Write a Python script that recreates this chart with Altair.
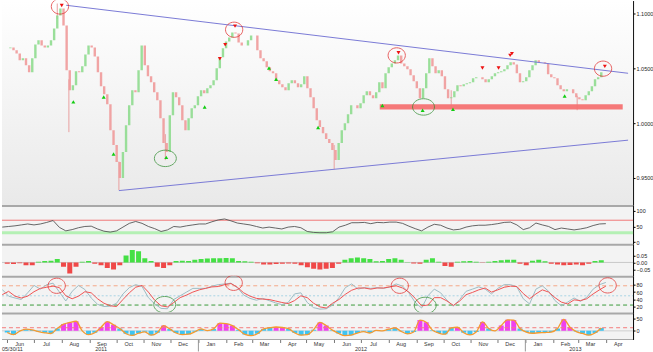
import altair as alt
import pandas as pd

W = 633
H_MAIN, H_RSI, H_MOM, H_STO, H_OSC = 205, 39, 32, 37, 27
FONT = "Liberation Sans"

# ---------------- data ----------------
close = [
    1.0682, 1.0691, 1.0664, 1.0636, 1.0573, 1.0591, 1.0527, 1.0464, 1.0591, 1.0718,
    1.0755, 1.0709, 1.0691, 1.0709, 1.0755, 1.0864, 1.0982, 1.1045, 1.0891, 1.0482,
    1.0300, 1.0345, 1.0473, 1.0464, 1.0518, 1.0627, 1.0709, 1.0691, 1.0609, 1.0464,
    1.0336, 1.0264, 1.0173, 0.9936, 0.9800, 0.9645, 0.9500, 0.9736, 0.9982, 1.0164,
    1.0300, 1.0282, 1.0482, 1.0709, 1.0527, 1.0427, 1.0373, 1.0282, 1.0209, 1.0045,
    0.9818, 0.9736, 1.0073, 1.0282, 1.0236, 1.0164, 1.0027, 0.9936, 1.0045, 1.0136,
    1.0164, 1.0245, 1.0300, 1.0273, 1.0318, 1.0345, 1.0391, 1.0500, 1.0600, 1.0682,
    1.0745, 1.0782, 1.0827, 1.0818, 1.0736, 1.0709, 1.0709, 1.0755, 1.0800, 1.0800,
    1.0664, 1.0591, 1.0564, 1.0509, 1.0473, 1.0455, 1.0391, 1.0355, 1.0327, 1.0300,
    1.0364, 1.0391, 1.0364, 1.0327, 1.0355, 1.0427, 1.0318, 1.0236, 1.0136, 1.0027,
    0.9964, 0.9909, 0.9855, 0.9818, 0.9755, 0.9664, 0.9818, 0.9936, 1.0000, 1.0082,
    1.0164, 1.0164, 1.0136, 1.0182, 1.0255, 1.0291, 1.0255, 1.0227, 1.0282, 1.0373,
    1.0318, 1.0455, 1.0509, 1.0545, 1.0573, 1.0618, 1.0545, 1.0518, 1.0491, 1.0436,
    1.0382, 1.0318, 1.0227, 1.0318, 1.0455, 1.0591, 1.0518, 1.0455, 1.0482, 1.0427,
    1.0309, 1.0227, 1.0236, 1.0291, 1.0345, 1.0336, 1.0355, 1.0364, 1.0373, 1.0409,
    1.0418, 1.0418, 1.0400, 1.0373, 1.0400, 1.0427, 1.0455, 1.0464, 1.0473, 1.0491,
    1.0527, 1.0555, 1.0536, 1.0455, 1.0373, 1.0382, 1.0418, 1.0482, 1.0527, 1.0573,
    1.0555, 1.0555, 1.0545, 1.0445, 1.0418, 1.0409, 1.0345, 1.0309, 1.0291, 1.0309,
    1.0309, 1.0273, 1.0236, 1.0218, 1.0209, 1.0255, 1.0291, 1.0336, 1.0400, 1.0418,
    1.0464, 1.0464,
]

# a few long wicks visible in the picture: date, low end, high end
wick_dates = ["2011-07-27", "2011-08-09", "2011-10-04", "2011-11-25", "2012-06-01",
              "2012-10-10", "2013-02-28"]
wick_lows = [1.0950, 0.9918, 0.9390, 0.9663, 0.9580, 1.0145, 1.0118]
wick_highs = [1.1091, 1.0400, 0.9650, 0.9900, 0.9800, 1.0300, 1.0250]

rsi = [
    48, 50, 52, 55, 58, 55, 58, 63, 69, 47, 36, 40, 46, 50, 51, 42, 35, 32, 36, 48,
    60, 66, 60, 50, 43, 34, 39, 50, 48, 52, 55, 58, 58, 65, 71, 74, 68, 61, 58, 55,
    50, 45, 48, 45, 42, 48, 50, 46, 34, 31, 30, 30, 33, 48, 54, 62, 62, 63, 59, 63,
    62, 64, 64, 60, 51, 43, 36, 48, 57, 54, 45, 39, 41, 48, 52, 54, 54, 56, 59, 63,
    64, 55, 40, 46, 61, 55, 50, 40, 45, 42, 39, 42, 46, 53, 58, 59,
]

momentum = [
    -0.01, -0.012, -0.005, -0.02, -0.02, 0.005, 0.01, 0.012, 0.025, -0.03,
    -0.08, -0.03, 0.005, 0.01, -0.01, -0.02, -0.04, -0.05, -0.02, 0.05,
    0.09, 0.08, 0.03, 0.01, -0.03, -0.04, -0.02, 0.01, 0.012, 0.01,
    0.02, 0.025, 0.028, 0.03, 0.03, 0.032, 0.03, 0.01, 0.008, 0.005,
    -0.005, -0.015, -0.015, -0.012, -0.01, -0.008, -0.01, -0.02, -0.035, -0.045,
    -0.05, -0.045, -0.04, -0.01, 0.02, 0.03, 0.035, 0.03, 0.025, 0.008,
    0.01, 0.025, 0.03, 0.02, 0.002, -0.008, -0.01, 0.02, 0.03, 0.005,
    -0.025, -0.03, 0.005, 0.008, 0.01, 0.005, -0.003, 0.005, 0.01, 0.015,
    0.02, 0.02, -0.01, -0.02, 0.012, 0.02, 0.008, -0.01, -0.015, -0.02,
    -0.018, -0.015, -0.02, -0.01, 0.01, 0.015,
]

stoch_slow = [
    53, 62, 49, 44, 49, 61, 70, 73, 76, 72, 50, 42, 49, 61, 58, 42, 30, 23, 21, 40,
    58, 73, 78, 60, 38, 23, 20, 32, 45, 52, 60, 66, 70, 74, 75, 80, 83, 73, 58, 49,
    43, 41, 40, 36, 32, 29, 37, 50, 45, 30, 20, 17, 30, 40, 54, 65, 71, 71, 68, 71,
    71, 74, 77, 71, 60, 43, 23, 25, 45, 45, 36, 24, 36, 53, 59, 66, 71, 60, 66, 73,
    76, 75, 56, 42, 55, 66, 60, 45, 33, 28, 39, 37, 42, 55, 66, 76,
]

stoch_fast = [
    67, 49, 44, 40, 58, 78, 68, 80, 84, 60, 36, 62, 78, 67, 44, 27, 21, 22, 30, 55,
    72, 80, 75, 45, 28, 16, 15, 40, 50, 60, 70, 70, 70, 76, 80, 82, 84, 72, 52, 43,
    38, 43, 37, 31, 26, 32, 55, 58, 32, 18, 14, 15, 25, 45, 72, 82, 68, 72, 70, 72,
    70, 74, 82, 76, 58, 32, 17, 50, 68, 58, 38, 22, 40, 62, 68, 74, 68, 55, 70, 80,
    80, 74, 42, 28, 68, 77, 62, 37, 23, 33, 44, 35, 46, 68, 80, 86,
]

osc = [
    -7, -16, -1, 7, 4, -3, -8, -11, 10, 28, 35, 40, 0, -16, -8, 15, 38, 25, 10, -12,
    -19, -10, -4, -18, -8, 22, 8, -9, -16, -14, -4, 8, 1, 8, 32, 30, 22, 5, -15, -20,
    -12, 8, 13, 16, 14, 9, -9, -18, -16, 5, 35, 22, 3, -11, -20, -18, -9, -3, -9, 2,
    0, 7, 12, -2, -13, -5, 45, 36, 3, -9, -14, 12, 15, -8, -17, -5, 37, 10, 0, 22,
    46, 45, 10, -5, -10, -8, -7, -5, 10, 48, 15, -3, -11, -18, -9, 12,
]

top_marker_dates = ["2011-08-01", "2012-01-25", "2012-01-31", "2012-02-11", "2012-08-12",
                    "2012-11-14", "2012-12-02", "2012-12-15", "2012-12-17", "2013-03-31"]
top_marker_prices = [1.1073, 1.0588, 1.0715, 1.0885, 1.0643, 1.0503, 1.0503, 1.0618, 1.0634, 1.0518]

bottom_marker_dates = ["2011-08-14", "2011-09-17", "2011-09-28", "2011-11-26", "2012-01-08",
                       "2012-03-20", "2012-03-28", "2012-05-14", "2012-07-25", "2012-09-08",
                       "2012-10-12", "2013-02-14"]
bottom_marker_prices = [1.0194, 1.0239, 0.9718, 0.9688, 1.0148, 1.0503, 1.0400, 0.9961,
                        1.0161, 1.0118, 1.0127, 1.0248]

red_circle_dates = ["2011-07-30", "2012-02-10", "2012-08-10", "2013-03-29"]
red_circle_prices = [1.1064, 1.0852, 1.0618, 1.0497]
green_circle_dates = ["2011-11-25", "2012-09-09"]
green_circle_prices = [0.9679, 1.0148]

stoch_red_circle_dates = ["2011-07-31", "2012-02-11", "2012-08-12", "2013-03-29"]
stoch_red_circle_values = [77, 85, 77, 78]
stoch_green_circle_dates = ["2011-11-27", "2012-09-09"]
stoch_green_circle_values = [26, 24]

trend_names = ["upper", "upper", "lower", "lower"]
trend_dates = ["2011-08-06", "2013-04-26", "2011-10-04", "2013-04-26"]
trend_prices = [1.1075, 1.0455, 0.9385, 0.9845]

band_start, band_end = "2012-07-22", "2013-04-20"
band_low, band_high = 1.0125, 1.0173

month_names = ["Jun", "Jul", "Aug", "Sep", "Oct", "Nov", "Dec", "Jan", "Feb", "Mar", "Apr", "May",
               "Jun", "Jul", "Aug", "Sep", "Oct", "Nov", "Dec", "Jan", "Feb", "Mar", "Apr"]
year_names = ["2011", "2012", "2013"]
year_label_dates = ["2011-09-14", "2012-07-01", "2013-02-26"]
year_sep_dates = ["2012-01-01", "2013-01-01"]

# ---------------- tables ----------------
dates = pd.date_range("2011-06-01", periods=len(close), freq=pd.Timedelta(hours=84))
price = pd.DataFrame({"date": dates, "close": close})
price["open"] = price["close"].shift(1).fillna(price["close"])
price["dir"] = (price["close"] >= price["open"]).map({True: "up", False: "down"})

wicks = pd.DataFrame({"date": pd.to_datetime(wick_dates), "lo": wick_lows, "hi": wick_highs})

wdates = dates[::2]
ind = pd.DataFrame({"date": wdates, "rsi": rsi, "mom": momentum,
                    "fast": stoch_fast, "slow": stoch_slow, "osc": osc})
ind["momdir"] = (ind["mom"] >= 0).map({True: "pos", False: "neg"})
ind["oscdir"] = (ind["osc"] > 13).map({True: "hi", False: "lo"})

tops = pd.DataFrame({"date": pd.to_datetime(top_marker_dates), "p": top_marker_prices})
bots = pd.DataFrame({"date": pd.to_datetime(bottom_marker_dates), "p": bottom_marker_prices})
rc = pd.DataFrame({"date": pd.to_datetime(red_circle_dates), "p": red_circle_prices})
gc = pd.DataFrame({"date": pd.to_datetime(green_circle_dates), "p": green_circle_prices})
src = pd.DataFrame({"date": pd.to_datetime(stoch_red_circle_dates), "v": stoch_red_circle_values})
sgc = pd.DataFrame({"date": pd.to_datetime(stoch_green_circle_dates), "v": stoch_green_circle_values})
trend = pd.DataFrame({"name": trend_names, "date": pd.to_datetime(trend_dates), "p": trend_prices})
band = pd.DataFrame({"d1": [pd.Timestamp(band_start)], "d2": [pd.Timestamp(band_end)],
                     "lo": [band_low], "hi": [band_high]})
months = pd.DataFrame({"date": pd.date_range("2011-06-01", periods=len(month_names), freq="MS")
                       + pd.Timedelta(days=14), "m": month_names})
years = pd.DataFrame({"date": pd.to_datetime(year_label_dates), "y": year_names})
ysep = pd.DataFrame({"date": pd.to_datetime(year_sep_dates)})
one = pd.DataFrame({"a": [0]})

# ---------------- scales / helpers ----------------
xs = alt.Scale(domain=[alt.DateTime(year=2011, month=5, date=31, hours=17),
                       alt.DateTime(year=2013, month=4, date=26)])
X = alt.X("date:T", scale=xs, axis=None)


def yaxis(values, fmt):
    return alt.Axis(orient="right", values=values, format=fmt, title=None, grid=False,
                    tickSize=2, labelPadding=1, domainColor="#000", tickColor="#000",
                    labelFont=FONT, labelFontSize=5.5, labelColor="#222")


ellipse_red = "M -1 0 A 1 0.88 0 1 1 1 0 A 1 0.88 0 1 1 -1 0 Z"
ellipse_green = "M -1 0 A 1 0.75 0 1 1 1 0 A 1 0.75 0 1 1 -1 0 Z"


def separator():
    return alt.Chart(one).mark_rule(color="#a8a8a8", strokeWidth=2).encode(
        x=alt.value(0), x2=alt.value(W), y=alt.value(1))


# ---------------- main price panel ----------------
ys = alt.Scale(domain=[0.92545, 1.11182], nice=False, zero=False)
ymain = lambda f: alt.Y(f, scale=ys, axis=yaxis([0.95, 1.0, 1.05, 1.1], ".4f"))

bg = alt.Chart(one).mark_rect(
    color=alt.Gradient(gradient="linear",
                       stops=[alt.GradientStop(color="#ffffff", offset=0),
                              alt.GradientStop(color="#e9e9e9", offset=1)],
                       x1=0, x2=0, y1=0, y2=1)
).encode(x=alt.value(0), x2=alt.value(W), y=alt.value(0), y2=alt.value(H_MAIN))

band_layer = alt.Chart(band).mark_rect(color="#f47272", opacity=0.95, clip=True).encode(
    x=alt.X("d1:T", scale=xs, axis=None), x2="d2:T", y=ymain("lo:Q"), y2="hi:Q")

wick_layer = alt.Chart(wicks).mark_rule(color="#e8a0a0", strokeWidth=1, clip=True).encode(
    x=X, y=ymain("lo:Q"), y2="hi:Q")

candles = alt.Chart(price).mark_bar(size=2.4, clip=True, opacity=0.9).encode(
    x=X, y=ymain("open:Q"), y2="close:Q",
    color=alt.Color("dir:N", scale=alt.Scale(domain=["up", "down"], range=["#8fdc8f", "#f09a9a"]),
                    legend=None))

trend_layer = alt.Chart(trend).mark_line(color="#7a7ad6", strokeWidth=1, clip=True).encode(
    x=X, y=ymain("p:Q"), detail="name:N")

tops_layer = alt.Chart(tops).mark_point(shape="triangle-down", filled=True, size=16, clip=True,
                                        color="#ee1111", opacity=1).encode(x=X, y=ymain("p:Q"))
bots_layer = alt.Chart(bots).mark_point(shape="triangle-up", filled=True, size=16, clip=True,
                                        color="#11cc11", opacity=1).encode(x=X, y=ymain("p:Q"))
rc_layer = alt.Chart(rc).mark_point(shape=ellipse_red, size=300, color="#e02020", clip=True,
                                    strokeWidth=1, filled=False).encode(x=X, y=ymain("p:Q"))
gc_layer = alt.Chart(gc).mark_point(shape=ellipse_green, size=484, color="#2a8a2a", clip=True,
                                    strokeWidth=1, filled=False).encode(x=X, y=ymain("p:Q"))

main = alt.layer(bg, wick_layer, candles, band_layer, trend_layer, tops_layer, bots_layer,
                 rc_layer, gc_layer).properties(width=W, height=H_MAIN)

# ---------------- RSI panel ----------------
yr = alt.Scale(domain=[-5.4, 119], nice=False, zero=False)
rsi_axis = yaxis([0, 50, 100], "d")
rsi_panel = alt.layer(
    separator(),
    alt.Chart(one).mark_rule(color="#b4f0b4", strokeWidth=3).encode(
        x=alt.value(0), x2=alt.value(W), y=alt.datum(30, scale=yr, axis=rsi_axis)),
    alt.Chart(one).mark_rule(color="#f07878", strokeWidth=1).encode(
        x=alt.value(0), x2=alt.value(W), y=alt.datum(70, scale=yr, axis=rsi_axis)),
    alt.Chart(ind).mark_line(color="#555555", strokeWidth=0.9, clip=True).encode(
        x=X, y=alt.Y("rsi:Q", scale=yr, axis=rsi_axis)),
).properties(width=W, height=H_RSI, view=alt.ViewBackground(fill="#f3f3f3", stroke=None))

# ---------------- momentum panel ----------------
ym = alt.Scale(domain=[-0.095, 0.1336], nice=False, zero=False)
mom_axis = yaxis([-0.05, 0, 0.05], ".2f")
mom_panel = alt.layer(
    separator(),
    alt.Chart(one).mark_rule(color="#c8c8c8", strokeWidth=1).encode(
        x=alt.value(0), x2=alt.value(W), y=alt.datum(0, scale=ym, axis=mom_axis)),
    alt.Chart(ind).mark_bar(size=5, clip=True).encode(
        x=X, y=alt.Y("mom:Q", scale=ym, axis=mom_axis), y2=alt.datum(0),
        color=alt.Color("momdir:N", scale=alt.Scale(domain=["pos", "neg"], range=["#44e044", "#f04848"]),
                        legend=None)),
).properties(width=W, height=H_MOM, view=alt.ViewBackground(fill="#f3f3f3", stroke=None))

# ---------------- stochastic panel ----------------
yst = alt.Scale(domain=[4.7, 104.2], nice=False, zero=False)
st_axis = yaxis([20, 40, 60, 80], "d")
sto_panel = alt.layer(
    separator(),
    alt.Chart(one).mark_rule(color="#f4a888", strokeWidth=1, strokeDash=[4, 3]).encode(
        x=alt.value(0), x2=alt.value(W), y=alt.datum(77, scale=yst, axis=st_axis)),
    alt.Chart(one).mark_rule(color="#a8d4e4", strokeWidth=1, strokeDash=[2, 2]).encode(
        x=alt.value(0), x2=alt.value(W), y=alt.datum(50, scale=yst, axis=st_axis)),
    alt.Chart(one).mark_rule(color="#3a9a3a", strokeWidth=1, strokeDash=[4, 3]).encode(
        x=alt.value(0), x2=alt.value(W), y=alt.datum(25, scale=yst, axis=st_axis)),
    alt.Chart(ind).mark_line(color="#9dbcc4", strokeWidth=1, clip=True).encode(
        x=X, y=alt.Y("fast:Q", scale=yst, axis=st_axis)),
    alt.Chart(ind).mark_line(color="#f05454", strokeWidth=1, clip=True).encode(
        x=X, y=alt.Y("slow:Q", scale=yst, axis=st_axis)),
    alt.Chart(src).mark_point(shape=ellipse_red, size=300, color="#e02020", strokeWidth=1,
                              filled=False, clip=True).encode(x=X, y=alt.Y("v:Q", scale=yst, axis=st_axis)),
    alt.Chart(sgc).mark_point(shape=ellipse_green, size=484, color="#2a8a2a", strokeWidth=1,
                              filled=False, clip=True).encode(x=X, y=alt.Y("v:Q", scale=yst, axis=st_axis)),
).properties(width=W, height=H_STO, view=alt.ViewBackground(fill="#f3f3f3", stroke=None))

# ---------------- oscillator panel + time axis ----------------
yo = alt.Scale(domain=[-36, 76], nice=False, zero=False)
osc_axis = yaxis([0, 50], "d")
month_ticks = [alt.DateTime(year=2011 + (5 + i) // 12, month=(5 + i) % 12 + 1, date=1)
               for i in range(len(month_names))]
Xb = alt.X("date:T", scale=xs, axis=alt.Axis(orient="bottom", values=month_ticks, labels=False,
                                              tickSize=3, domain=False, grid=False, title=None,
                                              tickColor="#777"))
osc_panel = alt.layer(
    separator(),
    alt.Chart(one).mark_rule(color="#a8a8a8", strokeWidth=1).encode(
        x=alt.value(0), x2=alt.value(W), y=alt.value(H_OSC)),
    alt.Chart(one).mark_rule(color="#cfcfcf", strokeWidth=1).encode(
        x=alt.value(0), x2=alt.value(W), y=alt.datum(0, scale=yo, axis=osc_axis)),
    alt.Chart(ind).mark_bar(size=5, clip=True).encode(
        x=Xb, y=alt.Y("osc:Q", scale=yo, axis=osc_axis), y2=alt.datum(0),
        color=alt.Color("oscdir:N", scale=alt.Scale(domain=["hi", "lo"], range=["#f040f0", "#3ec4f2"]),
                        legend=None)),
    alt.Chart(one).mark_rule(color="#f47a7a", strokeWidth=1, strokeDash=[4, 3]).encode(
        x=alt.value(0), x2=alt.value(W), y=alt.datum(13, scale=yo, axis=osc_axis)),
    alt.Chart(ind).mark_line(color="#f39a30", strokeWidth=1.3, interpolate="monotone", clip=True).encode(
        x=Xb, y=alt.Y("osc:Q", scale=yo, axis=osc_axis)),
    alt.Chart(ysep).mark_rule(color="#999999", strokeWidth=1).encode(
        x=Xb, y=alt.value(H_OSC), y2=alt.value(H_OSC + 12)),
    alt.Chart(months).mark_text(font=FONT, fontSize=5.5, color="#333", baseline="middle").encode(
        x=Xb, y=alt.value(H_OSC + 4.5), text="m:N"),
    alt.Chart(years).mark_text(font=FONT, fontSize=5.5, color="#333", baseline="middle").encode(
        x=Xb, y=alt.value(H_OSC + 9.5), text="y:N"),
    alt.Chart(one).mark_text(font=FONT, fontSize=5.5, color="#333", baseline="middle",
                             align="left", text="05/30/11").encode(
        x=alt.value(0), y=alt.value(H_OSC + 9.5)),
).properties(width=W, height=H_OSC, view=alt.ViewBackground(fill="#f3f3f3", stroke=None))

chart = alt.vconcat(main, rsi_panel, mom_panel, sto_panel, osc_panel, spacing=0).properties(
    padding=0, bounds="flush", background="white"
).configure_view(stroke=None).resolve_scale(y="independent", color="independent")

chart.save("out.html", embed_options={"renderer": "svg", "actions": False})
